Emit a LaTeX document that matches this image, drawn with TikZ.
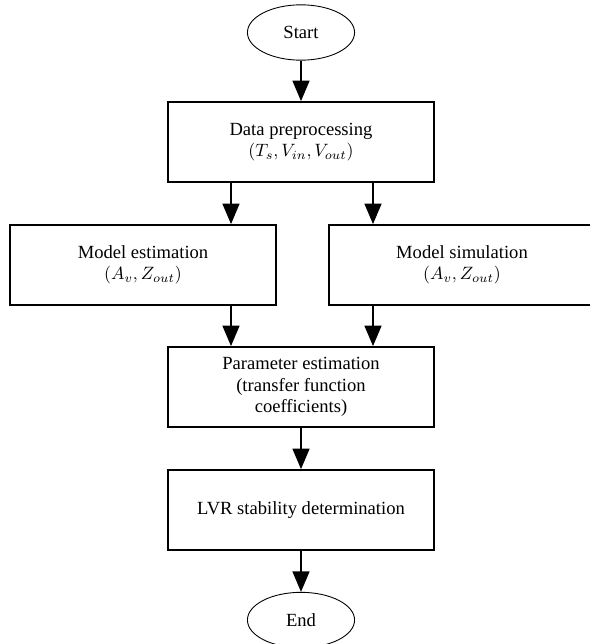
\documentclass[tikz,border=0pt]{standalone}
\usepackage{fontspec}
\setmainfont{Liberation Serif}
\usepackage{tikz}
\usetikzlibrary{arrows.meta,shapes.geometric,calc}

\begin{document}
\begin{tikzpicture}[x=0.56pt, y=-0.56pt, line width=1pt,
	box node/.style={rectangle,draw,minimum width=149pt,minimum height=44.8pt,inner sep=0pt,align=center,font=\fontsize{10.4}{12}\selectfont},
	end node/.style={ellipse,draw,line width=0.5pt,minimum width=60pt,minimum height=31pt,inner sep=0pt,font=\fontsize{10.4}{12}\selectfont},
	flow/.style={-{Triangle[length=11.5pt,width=9.5pt]}}]
	
	\useasboundingbox (0,0) rectangle (589,644);
	
	\node[end node] (start) at (301,32.5) {Start};
	\node[box node] (data) at (301,142) {Data preprocessing\\$(T_s, V_{in}, V_{out})$};
	\node[box node] (est) at (143,265) {Model estimation\\$(A_v, Z_{out})$};
	\node[box node] (sim) at (462,265) {Model simulation\\$(A_v, Z_{out})$};
	\node[box node] (param) at (301,387) {Parameter estimation\\(transfer function\\coefficients)};
	\node[box node] (lvr) at (301,510) {LVR stability determination};
	\node[end node] (end) at (301,620) {End};
	
	\coordinate (l) at ($(data.south)+(-70,0)$);
	\coordinate (r) at ($(data.south)+(72,0)$);
	
	\path[flow]
	(start) edge (data)
	(l) edge (l |- est.north)
	(r) edge (r |- sim.north)
	(l |- est.south) edge (l |- param.north)
	(r |- sim.south) edge (r |- param.north)
	(param) edge (lvr)
	(lvr) edge (end);
\end{tikzpicture}
\end{document}
